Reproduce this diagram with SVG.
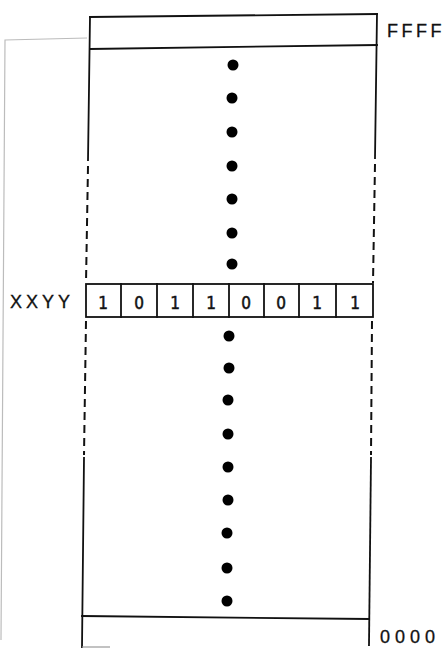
<svg xmlns="http://www.w3.org/2000/svg" width="447" height="648" viewBox="0 0 447 648">
<style>
.ln{stroke:#111;stroke-width:1.8;fill:none;stroke-linecap:square}
.ds{stroke:#111;stroke-width:2;fill:none;stroke-dasharray:8 5}
.dot{fill:#000}
.lbl{font-family:"Liberation Sans",Arial,sans-serif;font-size:18px;fill:#111;stroke:#111;stroke-width:0.3}
.bit{font-family:"DejaVu Sans Condensed","Liberation Sans",sans-serif;font-size:17px;fill:#111;stroke:#111;stroke-width:0.5;text-anchor:middle}
</style>
<rect width="447" height="648" fill="#fff"/>
<g id="connectors">
<polyline points="87,38 5,40 1,640" fill="none" stroke="#bcbcbc" stroke-width="1.2"/>
</g>
<g id="memory-top">
<line class="ln" x1="90" y1="17" x2="377" y2="14"/>
<line class="ln" x1="90" y1="49" x2="377" y2="45"/>
<line class="ln" x1="90" y1="17" x2="88" y2="160"/>
<line class="ln" x1="377" y1="14" x2="375" y2="158"/>
<line class="ds" x1="88" y1="166" x2="86" y2="283"/>
<line class="ds" x1="375" y1="164" x2="373" y2="283"/>
<text class="lbl" x="387" y="37" letter-spacing="3.5">FFFF</text>
</g>
<g id="dots">
<circle class="dot" cx="233" cy="65" r="5.5"/>
<circle class="dot" cx="232" cy="98" r="5.5"/>
<circle class="dot" cx="232" cy="132" r="5.5"/>
<circle class="dot" cx="232" cy="166" r="5.5"/>
<circle class="dot" cx="232" cy="199" r="5.5"/>
<circle class="dot" cx="232" cy="233" r="5.5"/>
<circle class="dot" cx="232" cy="264" r="5.5"/>
<circle class="dot" cx="229" cy="336" r="5.5"/>
<circle class="dot" cx="229" cy="368" r="5.5"/>
<circle class="dot" cx="228" cy="400" r="5.5"/>
<circle class="dot" cx="228" cy="434" r="5.5"/>
<circle class="dot" cx="228" cy="467" r="5.5"/>
<circle class="dot" cx="228" cy="500" r="5.5"/>
<circle class="dot" cx="227" cy="533" r="5.5"/>
<circle class="dot" cx="227" cy="568" r="5.5"/>
<circle class="dot" cx="227" cy="601" r="5.5"/>
</g>
<g id="register">
<rect class="ln" x="86" y="284" width="287" height="33"/>
<line class="ln" x1="121" y1="284" x2="121" y2="317"/>
<line class="ln" x1="157" y1="284" x2="157" y2="317"/>
<line class="ln" x1="193" y1="284" x2="193" y2="317"/>
<line class="ln" x1="229" y1="284" x2="229" y2="317"/>
<line class="ln" x1="264" y1="284" x2="264" y2="317"/>
<line class="ln" x1="299" y1="284" x2="299" y2="317"/>
<line class="ln" x1="336" y1="284" x2="336" y2="317"/>
<text class="bit" x="103" y="309">1</text>
<text class="bit" x="139" y="309">0</text>
<text class="bit" x="175" y="309">1</text>
<text class="bit" x="211" y="309">1</text>
<text class="bit" x="246" y="309">0</text>
<text class="bit" x="281" y="309">0</text>
<text class="bit" x="317" y="309">1</text>
<text class="bit" x="355" y="309">1</text>
<text class="lbl" x="10" y="308" letter-spacing="4">XXYY</text>
</g>
<g id="memory-bottom">
<line class="ds" x1="86" y1="321" x2="84" y2="455"/>
<line class="ds" x1="372" y1="321" x2="371" y2="455"/>
<line class="ln" x1="84" y1="458" x2="82" y2="648"/>
<line class="ln" x1="371" y1="458" x2="369" y2="645"/>
<line class="ln" x1="82" y1="616" x2="369" y2="619"/>
<line x1="82" y1="647" x2="110" y2="647" stroke="#999" stroke-width="1.2"/>
<text class="lbl" x="380" y="643" letter-spacing="5">0000</text>
</g>
</svg>
